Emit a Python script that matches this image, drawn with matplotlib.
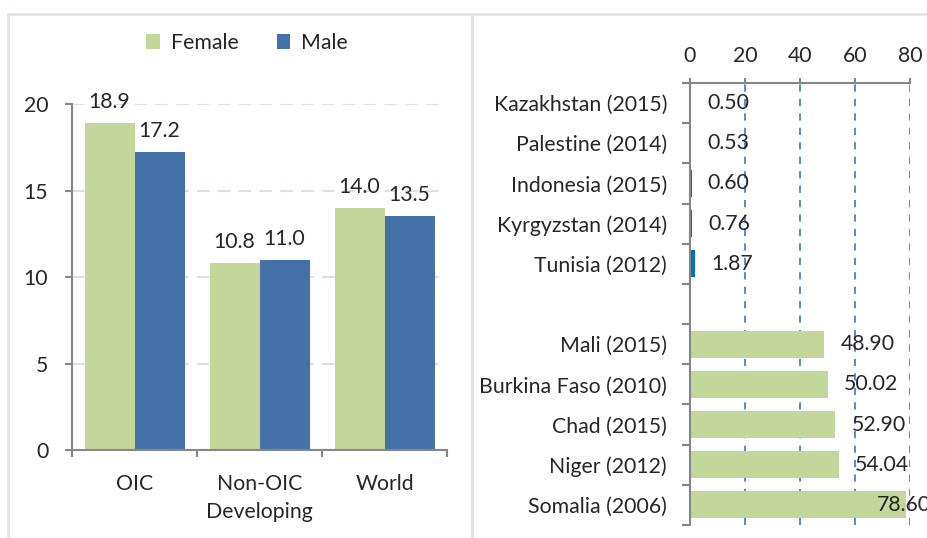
import matplotlib.pyplot as plt
from matplotlib.patches import Rectangle
import numpy as np

plt.rcParams['font.family'] = ['Lato', 'DejaVu Sans']

# left panel data
groups = ['OIC', 'Non-OIC\nDeveloping', 'World']
female = [18.9, 10.8, 14.0]
male = [17.2, 11.0, 13.5]

# right panel data (top to bottom, '' = blank gap row)
countries = ['Kazakhstan (2015)', 'Palestine (2014)', 'Indonesia (2015)', 'Kyrgyzstan (2014)',
             'Tunisia (2012)', '', 'Mali (2015)', 'Burkina Faso (2010)', 'Chad (2015)',
             'Niger (2012)', 'Somalia (2006)']
values = [0.50, 0.53, 0.60, 0.76, 1.87, None, 48.90, 50.02, 52.90, 54.04, 78.60]

GREEN = '#C4D79B'
BLUE = '#4472A8'
BLUE2 = '#0070C0'
AXC = '#868686'
TXT = '#262626'
FS = 15.3

fig = plt.figure(figsize=(9.27, 5.38), dpi=100)

# panel frames
frame = '#DCE6F2'
fig.patches.append(Rectangle((8 / 927, -0.01), (472 - 8) / 927, (538 - 14) / 538 + 0.01,
                             transform=fig.transFigure, fill=False, ec=frame, lw=2))
fig.patches.append(Rectangle((472 / 927, -0.01), 0.6, (538 - 14) / 538 + 0.01,
                             transform=fig.transFigure, fill=False, ec=frame, lw=2))

# ---- left chart ----
ax = fig.add_axes([72 / 927, (538 - 450) / 538, 375 / 927, 346 / 538])
x = np.arange(len(groups))
w = 0.4
b1 = ax.bar(x - w / 2, female, w, color=GREEN, label='Female')
b2 = ax.bar(x + w / 2, male, w, color=BLUE, label='Male')
for bars, vals in ((b1, female), (b2, male)):
    for r, v in zip(bars, vals):
        ax.annotate(f'{v:.1f}', (r.get_x() + r.get_width() / 2, v), xytext=(0, 21),
                    textcoords='offset pixels', ha='center', va='center',
                    fontsize=FS, color=TXT)
ax.set_xlim(-0.5, 2.5)
ax.set_ylim(0, 20)
ax.set_yticks([0, 5, 10, 15, 20])
ax.set_xticks(x)
ax.set_xticklabels(groups, linespacing=1.55)
ax.set_xticks([-0.5, 0.5, 1.5, 2.5], minor=True)
ax.tick_params(axis='x', which='major', length=0, pad=17, labelsize=FS, labelcolor=TXT)
ax.tick_params(axis='x', which='minor', length=5, width=1.5, color=AXC, direction='out')
ax.tick_params(axis='y', length=5, width=1.5, color=AXC, pad=12, labelsize=FS, labelcolor=TXT)
ax.yaxis.grid(True, color='#D9E0F0', ls=(0, (6, 4)), lw=1.5)
ax.set_axisbelow(True)
for s in ('top', 'right'):
    ax.spines[s].set_visible(False)
for s in ('left', 'bottom'):
    ax.spines[s].set_color(AXC)
    ax.spines[s].set_linewidth(1.5)
ax.legend(loc='center', bbox_to_anchor=(247 / 927, (538 - 43) / 538),
          bbox_transform=fig.transFigure, ncol=2, frameon=False, fontsize=FS,
          handlelength=0.65, handleheight=0.65, columnspacing=1.8, handletextpad=0.5,
          labelcolor=TXT)

# ---- right chart ----
ax2 = fig.add_axes([690 / 927, (538 - 525) / 538, 220 / 927, 442 / 538])
ypos = np.arange(len(countries))
for i, (c, v) in enumerate(zip(countries, values)):
    if v is None:
        continue
    col = BLUE2 if i < 5 else GREEN
    ax2.barh(i, v, height=0.67, color=col)
    tx = min(v + 5.8, 68.0)
    ax2.text(tx, i, f'{v:.2f}', ha='left', va='center', fontsize=FS, color=TXT,
             clip_on=False)
ax2.set_ylim(len(countries) - 0.5, -0.5)
ax2.set_xlim(0, 80)
ax2.set_yticks(ypos)
ax2.set_yticklabels(countries)
ax2.set_yticks(np.arange(-0.5, len(countries)), minor=True)
ax2.tick_params(axis='y', which='major', length=0, pad=16.5, labelsize=FS, labelcolor=TXT)
ax2.tick_params(axis='y', which='minor', length=5.8, width=1.5, color=AXC)
ax2.xaxis.tick_top()
ax2.set_xticks([0, 20, 40, 60, 80])
ax2.tick_params(axis='x', length=3.6, width=1.5, color=AXC, pad=9, labelsize=FS,
                labelcolor=TXT)
ax2.xaxis.grid(True, color='#4F81BD', ls=(0, (4, 4)), lw=1.3)
ax2.set_axisbelow(True)
for s in ('bottom', 'right'):
    ax2.spines[s].set_visible(False)
for s in ('left', 'top'):
    ax2.spines[s].set_color(AXC)
    ax2.spines[s].set_linewidth(1.5)

fig.savefig('out.png', dpi=100)
